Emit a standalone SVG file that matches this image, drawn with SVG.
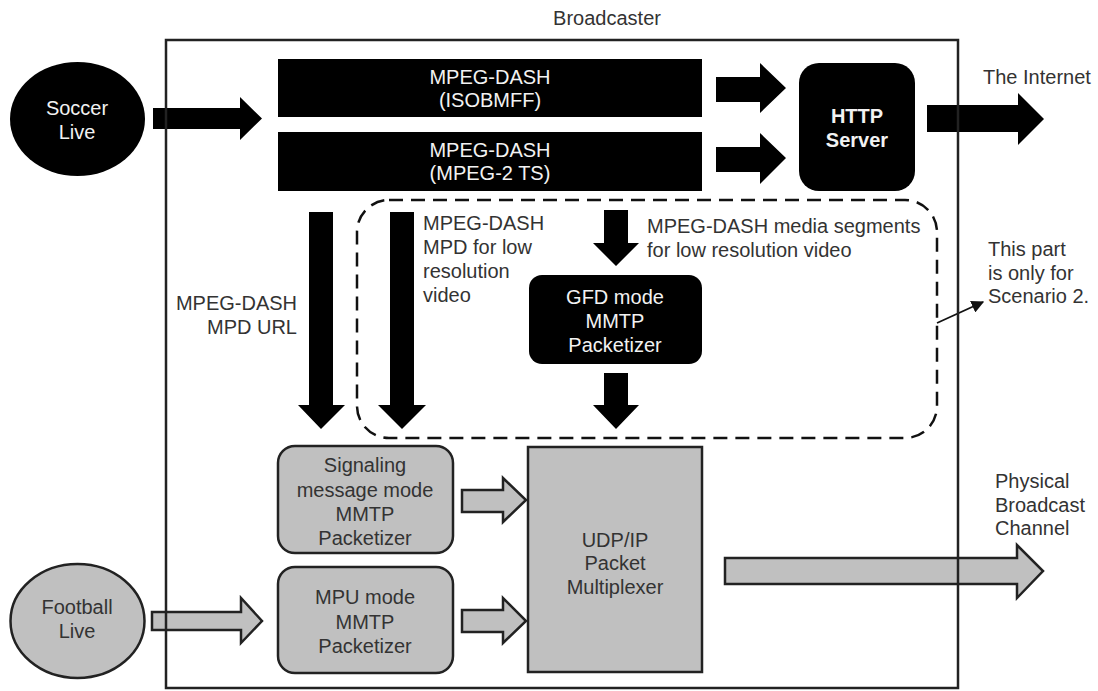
<svg xmlns="http://www.w3.org/2000/svg" width="1098" height="691" viewBox="0 0 1098 691">
  <defs>
    <style>
      text { font-family: "Liberation Sans", Arial, sans-serif; font-size: 20px; fill: #333; }
      .c { text-anchor: middle; }
      .r { text-anchor: end; }
      .w { fill: #f2f2f2; }
      .b { font-weight: bold; }
      .blk { fill: #000; }
      .gray { fill: #c0c0c0; stroke: #222; stroke-width: 2.5; stroke-linejoin: miter; }
      .frame { fill: none; stroke: #222; stroke-width: 2.5; }
      .dash { fill: none; stroke: #111; stroke-width: 2.5; stroke-dasharray: 14 8; }
    </style>
    <marker id="tip" viewBox="0 0 10 10" refX="9" refY="5" markerWidth="7" markerHeight="7" orient="auto">
      <path d="M0,0 L10,5 L0,10 z" fill="#111"/>
    </marker>
  </defs>

  <rect width="1098" height="691" fill="#fff"/>

  <!-- Broadcaster label -->
  <text id="broadcaster-label" class="c" x="607" y="25">Broadcaster</text>

  <!-- Scenario 2 region -->
  <g id="scenario2-region">
    <rect class="dash" x="357" y="200" width="580" height="238" rx="32" ry="32"/>
  </g>

  <!-- Nodes -->
  <g id="soccer-live">
    <ellipse cx="77.5" cy="119" rx="67.5" ry="57" fill="#000"/>
    <text class="c w" x="77" y="115">Soccer</text>
    <text class="c w" x="77" y="139">Live</text>
  </g>

  <g id="football-live">
    <ellipse class="gray" cx="77.5" cy="621" rx="67" ry="57"/>
    <text class="c" x="77" y="614">Football</text>
    <text class="c" x="77" y="638">Live</text>
  </g>

  <g id="dash-isobmff">
    <rect class="blk" x="278" y="59" width="424" height="58"/>
    <text class="c w" x="490" y="84">MPEG-DASH</text>
    <text class="c w" x="490" y="107">(ISOBMFF)</text>
  </g>

  <g id="dash-mpeg2ts">
    <rect class="blk" x="278" y="132" width="424" height="59"/>
    <text class="c w" x="490" y="157">MPEG-DASH</text>
    <text class="c w" x="490" y="180">(MPEG-2 TS)</text>
  </g>

  <g id="http-server">
    <rect class="blk" x="799" y="63" width="116" height="128" rx="20" ry="20"/>
    <text class="c w b" x="857" y="123">HTTP</text>
    <text class="c w b" x="857" y="147">Server</text>
  </g>

  <g id="gfd-packetizer">
    <rect class="blk" x="529" y="275" width="173" height="89" rx="13" ry="13"/>
    <text class="c w" x="615" y="304">GFD mode</text>
    <text class="c w" x="615" y="328">MMTP</text>
    <text class="c w" x="615" y="352">Packetizer</text>
  </g>

  <g id="signaling-packetizer">
    <rect class="gray" x="278" y="446" width="175" height="107" rx="17" ry="17"/>
    <text class="c" x="365" y="472">Signaling</text>
    <text class="c" x="365" y="497">message mode</text>
    <text class="c" x="365" y="521">MMTP</text>
    <text class="c" x="365" y="545">Packetizer</text>
  </g>

  <g id="mpu-packetizer">
    <rect class="gray" x="278" y="567" width="175" height="106" rx="17" ry="17"/>
    <text class="c" x="365" y="604">MPU mode</text>
    <text class="c" x="365" y="629">MMTP</text>
    <text class="c" x="365" y="653">Packetizer</text>
  </g>

  <g id="udp-multiplexer">
    <rect class="gray" x="528" y="447" width="174" height="225"/>
    <text class="c" x="615" y="547">UDP/IP</text>
    <text class="c" x="615" y="570">Packet</text>
    <text class="c" x="615" y="594">Multiplexer</text>
  </g>

  <!-- Connectors -->
  <g id="connectors">
    <!-- Soccer Live to DASH encoders -->
    <polygon class="blk" points="153,108 240,108 240,97 262,118.5 240,140 240,129 153,129"/>
    <!-- encoders to HTTP server -->
    <polygon class="blk" points="716,77 760,77 760,63 786,88 760,113 760,102 716,102"/>
    <polygon class="blk" points="716,147 760,147 760,133 786,158 760,184 760,172 716,172"/>
    <!-- HTTP server to the Internet -->
    <polygon class="blk" points="927,105 1018,105 1018,93 1044,119 1018,145 1018,132 927,132"/>
    <!-- MPD URL and MPD down to signaling packetizer -->
    <polygon class="blk" points="309,212 333,212 333,405 345,405 321,429 298,405 309,405"/>
    <polygon class="blk" points="390,212 414,212 414,405 426,405 402,429 378,405 390,405"/>
    <!-- media segments to GFD packetizer and on to multiplexer -->
    <polygon class="blk" points="604,210 628,210 628,243 639,243 616,266 593,243 604,243"/>
    <polygon class="blk" points="604,373 628,373 628,405 639,405 616,429 593,405 604,405"/>
    <!-- Football Live to MPU packetizer -->
    <polygon class="gray" points="152,612 241,612 241,598 262,621 241,643 241,630 152,630"/>
    <!-- packetizers to multiplexer -->
    <polygon class="gray" points="462,490 503,490 503,478 526,500 503,522 503,512 462,512"/>
    <polygon class="gray" points="462,610 503,610 503,598 526,621 503,643 503,632 462,632"/>
    <!-- multiplexer to physical broadcast channel -->
    <polygon class="gray" points="725,558 1017,558 1017,545 1043,571 1017,598 1017,584 725,584"/>
    <!-- note pointer -->
    <line x1="937" y1="323" x2="983" y2="302" stroke="#111" stroke-width="1.8" marker-end="url(#tip)"/>
  </g>

  <!-- Broadcaster boundary -->
  <g id="broadcaster-frame">
    <rect class="frame" x="166" y="40" width="792" height="648"/>
  </g>

  <!-- Labels -->
  <g id="labels">
    <text x="983" y="84">The Internet</text>
    <text class="r" x="297" y="310">MPEG-DASH</text>
    <text class="r" x="297" y="334">MPD URL</text>
    <text x="423" y="230">MPEG-DASH</text>
    <text x="423" y="254">MPD for low</text>
    <text x="423" y="278">resolution</text>
    <text x="423" y="302">video</text>
    <text x="647" y="233">MPEG-DASH media segments</text>
    <text x="647" y="257">for low resolution video</text>
    <text x="988" y="256">This part</text>
    <text x="988" y="280">is only for</text>
    <text x="988" y="303">Scenario 2.</text>
    <text x="995" y="488">Physical</text>
    <text x="995" y="512">Broadcast</text>
    <text x="995" y="535">Channel</text>
  </g>
</svg>
